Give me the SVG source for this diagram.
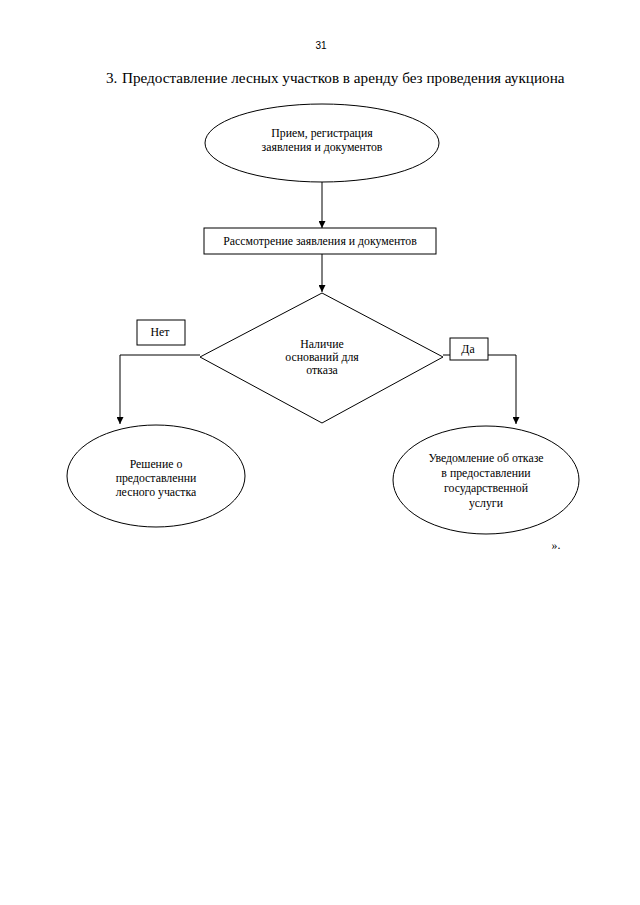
<svg xmlns="http://www.w3.org/2000/svg" width="640" height="905" viewBox="0 0 640 905">
<style>
  .s { fill: #fff; stroke: #000; stroke-width: 1; }
  .c { fill: none; stroke: #000; stroke-width: 1; }
  .t { font-family: "Liberation Serif", "Times New Roman", serif; font-size: 11.8px; fill: #000; text-anchor: middle; }
  .h { font-family: "Liberation Serif", "Times New Roman", serif; font-size: 15.2px; fill: #000; }
  .p { font-family: "Liberation Sans", Arial, sans-serif; font-size: 10px; fill: #000; text-anchor: middle; }
</style>
<defs>
  <marker id="ar" viewBox="0 0 8 8" refX="8" refY="4" markerWidth="7" markerHeight="7" markerUnits="userSpaceOnUse" orient="auto">
    <path d="M0,0 L8,4 L0,8 Z" fill="#000"/>
  </marker>
</defs>
<rect width="640" height="905" fill="#fff"/>
<text class="p" x="321" y="49">31</text>
<text class="h" x="106" y="83">3.</text>
<text class="h" x="122" y="83">Предоставление лесных участков в аренду без проведения аукциона</text>

<g id="connectors">
  <line class="c" x1="322" y1="182" x2="322" y2="228" marker-end="url(#ar)"/>
  <line class="c" x1="322" y1="254" x2="322" y2="292" marker-end="url(#ar)"/>
  <polyline class="c" points="200,355 120,355 120,424" marker-end="url(#ar)"/>
  <polyline class="c" points="443,355 516,355 516,424" marker-end="url(#ar)"/>
</g>

<g id="start">
  <ellipse class="s" cx="322" cy="143" rx="117" ry="39"/>
  <text class="t" x="322" y="137">Прием, регистрация</text>
  <text class="t" x="322" y="151">заявления и документов</text>
</g>

<g id="review">
  <rect class="s" x="204" y="228" width="232" height="26"/>
  <text class="t" x="320" y="245">Рассмотрение заявления и документов</text>
</g>

<g id="decision">
  <polygon class="s" points="322,293 443,357 322,423 200,357"/>
  <text class="t" x="322" y="348">Наличие</text>
  <text class="t" x="322" y="361">оснований для</text>
  <text class="t" x="322" y="374">отказа</text>
</g>

<g id="label-no">
  <rect class="s" x="137" y="320" width="48" height="25"/>
  <text class="t" x="160" y="336">Нет</text>
</g>

<g id="label-yes">
  <rect class="s" x="450" y="338" width="38" height="22"/>
  <text class="t" x="468" y="353">Да</text>
</g>

<g id="grant">
  <ellipse class="s" cx="156" cy="476" rx="89" ry="51"/>
  <text class="t" x="156" y="468">Решение о</text>
  <text class="t" x="156" y="482">предоставленни</text>
  <text class="t" x="156" y="496">лесного участка</text>
</g>

<g id="refuse">
  <ellipse class="s" cx="486" cy="480" rx="93" ry="54"/>
  <text class="t" x="486" y="462">Уведомление об отказе</text>
  <text class="t" x="486" y="477">в предоставлении</text>
  <text class="t" x="486" y="492">государственной</text>
  <text class="t" x="486" y="507">услуги</text>
</g>

<text class="t" x="556" y="549">».</text>
</svg>
